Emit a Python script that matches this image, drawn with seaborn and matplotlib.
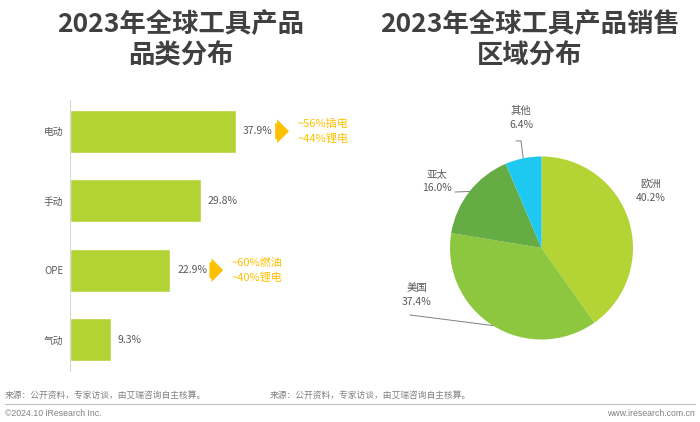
import numpy as np
import pandas as pd
import matplotlib.pyplot as plt
import seaborn as sns

# 品类分布 (%)
categories = ['电动', '手动', 'OPE', '气动']
category_share = [37.9, 29.8, 22.9, 9.3]
category_notes = {'电动': '~56%插电\n~44%锂电', 'OPE': '~60%燃油\n~40%锂电'}

# 区域分布 (%)
regions = ['欧洲', '美国', '亚太', '其他']
region_share = [40.2, 37.4, 16.0, 6.4]
region_colors = ['#B4D335', '#8DC63F', '#66AC45', '#1DC8F1']

sns.set_theme(style='white')
plt.rcParams['font.family'] = ['Noto Sans CJK SC', 'DejaVu Sans']

text_grey = '#595959'
note_yellow = '#FFC000'

fig = plt.figure(figsize=(7, 4.22), dpi=100)

# titles
fig.text(0.2586, 0.905, '2023年全球工具产品\n品类分布', ha='center', va='center',
         fontsize=19, fontweight='bold', color='#404040', linespacing=1.2)
fig.text(0.757, 0.905, '2023年全球工具产品销售\n区域分布', ha='center', va='center',
         fontsize=19, fontweight='bold', color='#404040', linespacing=1.2)

# A. bar chart of categories
bar_df = pd.DataFrame({'品类': categories, '占比': category_share})
ax1 = fig.add_axes([0.1, 0.121, 0.3757, 0.642])
sns.barplot(data=bar_df, x='占比', y='品类', color='#B3D334', saturation=1,
            width=0.62, ax=ax1)
ax1.set_xlim(0, 60)
ax1.set_ylim(3.45, -0.45)
ax1.set_xlabel('')
ax1.set_ylabel('')
ax1.set_xticks([])
for side in ['top', 'right', 'bottom']:
    ax1.spines[side].set_visible(False)
ax1.spines['left'].set_color('#D9D9D9')
ax1.spines['left'].set_linewidth(0.8)
ax1.tick_params(axis='y', length=0, pad=5, labelsize=7, labelcolor=text_grey)

for i, (cat, val) in enumerate(zip(categories, category_share)):
    ax1.annotate(f'{val}%', xy=(val, i), xytext=(7, 0), textcoords='offset pixels',
                 ha='left', va='center', fontsize=7.5, color=text_grey)
    if cat in category_notes:
        ax1.annotate(' ', xy=(val, i), xytext=(42, 0), textcoords='offset pixels',
                     ha='left', va='center', fontsize=7,
                     bbox=dict(boxstyle='rarrow,pad=0.3', fc=note_yellow, ec='none'))
        ax1.annotate(category_notes[cat], xy=(val, i), xytext=(61, 0),
                     textcoords='offset pixels', ha='left', va='center',
                     fontsize=8, color=note_yellow, linespacing=1.5)

# B. pie chart of regions
ax2 = fig.add_axes([391.5 / 700, 24 / 422, 300 / 700, 300 / 422])
wedges, _ = ax2.pie(region_share, colors=region_colors, startangle=90,
                    counterclock=False, wedgeprops=dict(linewidth=0))
lim = 150 / 91.5
ax2.set_xlim(-lim, lim)
ax2.set_ylim(-lim, lim)
ax2.set_aspect('equal')

label_pos = [(1.197, 0.623), (-1.361, -0.519), (-1.148, 0.732), (-0.224, 1.421)]
leader_start = [[], [(-1.437, -0.732)], [(-0.945, 0.612)],
                [(-0.279, 1.170), (-0.224, 1.170)]]
for w, name, val, pos, pts in zip(wedges, regions, region_share, label_pos, leader_start):
    ax2.text(pos[0], pos[1], f'{name}\n{val}%', ha='center', va='center',
             fontsize=7.5, color=text_grey, linespacing=1.5)
    if pts:
        mid = np.deg2rad((w.theta1 + w.theta2) / 2)
        xs = [p[0] for p in pts] + [np.cos(mid)]
        ys = [p[1] for p in pts] + [np.sin(mid)]
        ax2.plot(xs, ys, color='#808080', lw=0.7)

# footer
foot_grey = '#808080'
fig.text(5 / 700, 1 - 395 / 422, '来源：公开资料，专家访谈，由艾瑞咨询自主核算。',
         ha='left', va='center', fontsize=6.3, color=foot_grey)
fig.text(270 / 700, 1 - 395 / 422, '来源：公开资料，专家访谈，由艾瑞咨询自主核算。',
         ha='left', va='center', fontsize=6.3, color=foot_grey)
fig.add_artist(plt.Line2D([5 / 700, 695 / 700], [1 - 404 / 422, 1 - 404 / 422],
                          color='#BFBFBF', lw=0.8))
fig.text(5 / 700, 1 - 413 / 422, '©2024.10 iResearch Inc.', ha='left', va='center',
         fontsize=6.3, color=foot_grey, family=['Liberation Sans', 'DejaVu Sans'])
fig.text(695 / 700, 1 - 413 / 422, 'www.iresearch.com.cn', ha='right', va='center',
         fontsize=6.3, color=foot_grey, family=['Liberation Sans', 'DejaVu Sans'])

fig.savefig('out.png', dpi=100)
